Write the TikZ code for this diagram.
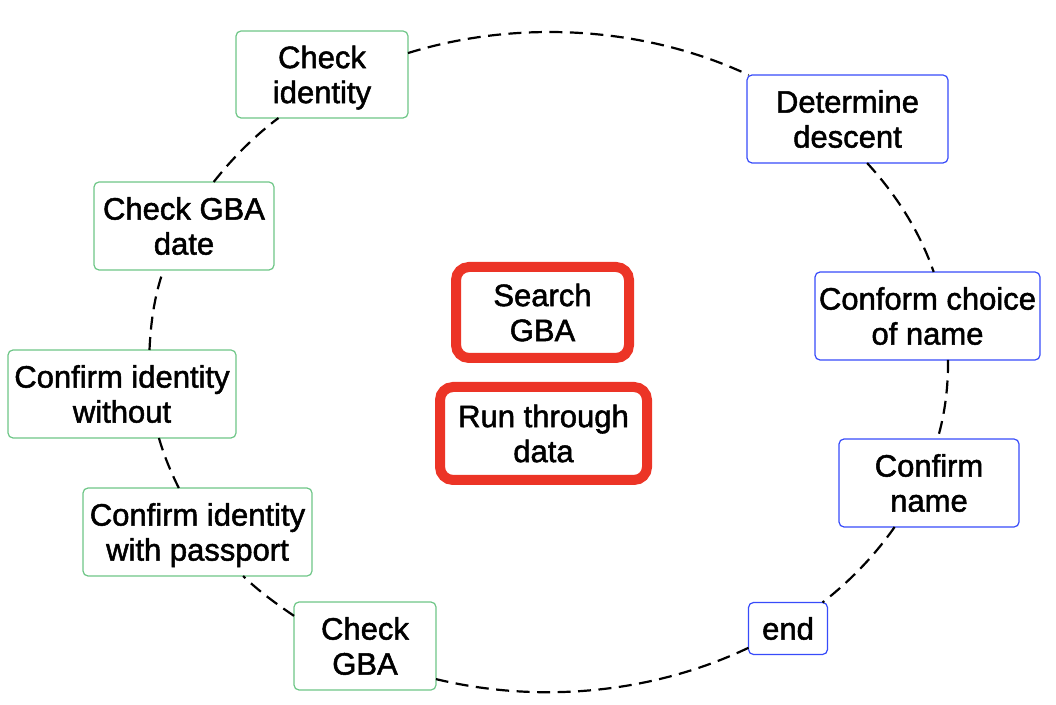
\documentclass[tikz,border=0pt]{standalone}
\usepackage{fontspec}
\setmainfont{Liberation Sans}
\newfontfamily\nodefont{Liberation Sans}[FakeBold=1.6]
\definecolor{gcol}{RGB}{110,198,135}
\definecolor{bcol}{RGB}{55,75,250}
\definecolor{rcol}{RGB}{236,52,38}
\begin{document}
\begin{tikzpicture}[x=1pt,y=1pt,
  box/.style={draw, rounded corners=5pt, line width=1.2pt, fill=white,
    inner sep=0pt, outer sep=0pt, align=center,
    font=\nodefont\fontsize{31}{35}\selectfont, text height=57.2pt, text depth=0pt},
  gbox/.style={box, draw=gcol},
  bbox/.style={box, draw=bcol},
  rbox/.style={box, draw=rcol, line width=10pt, rounded corners=13pt},
  link/.style={draw=black, line width=2.2pt, dash pattern=on 13pt off 7.5pt}]
\useasboundingbox (0,0) rectangle (1056,704);
\node[gbox, minimum width=172pt, minimum height=87pt] (CI) at (322,629.5) {Check\\identity};
\node[bbox, minimum width=201pt, minimum height=88pt] (DD) at (847.5,585) {Determine\\descent};
\node[bbox, minimum width=225pt, minimum height=88pt] (CC) at (927.5,388) {Conform choice\\of name};
\node[bbox, minimum width=180pt, minimum height=88pt] (CN) at (929,221) {Confirm\\name};
\node[bbox, minimum width=79pt, minimum height=52pt, text height=22.2pt] (EN) at (788,75.5) {end};
\node[gbox, minimum width=142pt, minimum height=88pt] (CG) at (365,58) {Check\\GBA};
\node[gbox, minimum width=229pt, minimum height=88pt] (CP) at (197.5,172) {Confirm identity\\with passport};
\node[gbox, minimum width=228pt, minimum height=88pt] (CW) at (122,310) {Confirm identity\\without};
\node[gbox, minimum width=180pt, minimum height=88pt] (CD) at (184,478) {Check GBA\\date};
\node[rbox, minimum width=173pt, minimum height=91pt] (SG) at (542.5,391.5) {Search\\GBA};
\node[rbox, minimum width=207pt, minimum height=93pt] (RD) at (543.5,270.5) {Run through\\data};
\draw[link] (CI.14) to[out=17.2,in=154.9,distance=115pt] (DD.156.4);
\draw[link] (DD.294.5) to[out=-47.5,in=109,distance=43pt] (CC.82.5);
\draw[link] (CC.295.5) to[out=-89.6,in=73.8,distance=27pt] (CN.79.1);
\draw[link] (CN.232.2) to[out=235,in=37.9,distance=35pt] (EN.37.1);
\draw[link] (EN.206) to[out=205.5,in=-13.6,distance=106pt] (CG.335.3);
\draw[link] (CG.157.5) to[out=145.8,in=-44.1,distance=21.5pt] (CP.316.6);
\draw[link] (CP.113) to[out=116.6,in=-74,distance=18pt] (CW.310.3);
\draw[link] (CW.58.7) to[out=87.5,in=250.6,distance=27.4pt] (CD.245.9);
\draw[link] (CD.56.4) to[out=51.7,in=216.9,distance=30.7pt] (CI.225.5);
\end{tikzpicture}
\end{document}
